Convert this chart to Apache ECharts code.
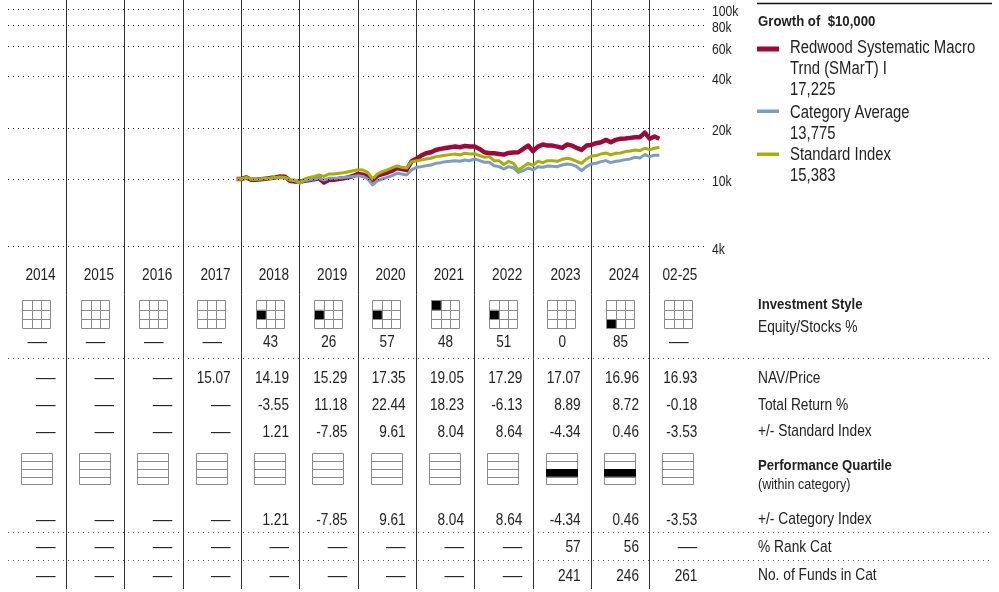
<!DOCTYPE html>
<html><head><meta charset="utf-8">
<script src="https://cdn.jsdelivr.net/npm/echarts@6/dist/echarts.min.js"></script>
<style>html,body{margin:0;padding:0;background:#fff}#c{width:999px;height:592px}</style>
</head><body><div id="c"></div>
<script>
// ---------- DATA ----------
const years = ['2014','2015','2016','2017','2018','2019','2020','2021','2022','2023','2024','02-25'];
const inceptionTime = 2017.92;
// growth of $10,000, inception, then month-ends Dec 2017 .. Feb 2025
const fund = [10000, 10000,
  10220, 9910, 9910, 9960, 10040, 10130, 10220, 10360, 10320, 9770, 9680, 9645,
  9770, 9870, 9960, 10090, 9550, 9870, 9910, 10000, 10090, 10220, 10410, 10723,
  10600, 10320, 9770, 10460, 10700, 10890, 11190, 11610, 11450, 11300, 12710, 13130,
  13730, 14170, 14360, 14820, 15030, 15230, 15370, 15510, 15370, 15650, 15510, 15523,
  15030, 14360, 14170, 14170, 14040, 13910, 14230, 14300, 14360, 15030, 15720, 14572,
  15510, 15940, 15720, 15720, 15510, 15230, 15940, 15720, 15230, 14820, 15720, 15867,
  16230, 16450, 16980, 16450, 16980, 17230, 17290, 17450, 17610, 17610, 18763, 17251,
  17770, 17225];
const categoryAvg = [10000, 10000,
  10180, 9960, 9960, 10000, 10040, 10090, 10180, 10220, 10180, 9870, 9770, 9470,
  9770, 9910, 10000, 10090, 9870, 10090, 10090, 10130, 10220, 10270, 10360, 10460,
  10360, 10000, 9250, 9770, 10000, 10220, 10460, 10800, 10700, 10560, 11300, 11710,
  11820, 11980, 12090, 12370, 12480, 12650, 12710, 12820, 12710, 12940, 12820, 13120,
  12820, 12540, 12540, 11980, 11820, 11450, 11820, 11610, 10940, 11190, 11610, 11300,
  11820, 11710, 11930, 11870, 11820, 12090, 12260, 12150, 11820, 11190, 11820, 12260,
  12370, 12650, 12820, 12480, 12710, 12820, 13000, 13120, 13420, 13300, 13910, 13540,
  13790, 13775];
const standardIndex = [10000, 10000,
  10220, 10000, 9960, 10000, 10090, 10130, 10220, 10270, 10220, 9870, 9870, 9524,
  10000, 10220, 10360, 10560, 10360, 10700, 10700, 10800, 10890, 11040, 11190, 11336,
  11300, 10940, 10000, 10700, 11040, 11300, 11610, 11930, 11710, 11610, 12650, 12791,
  12940, 13120, 13240, 13540, 13660, 13790, 13910, 14040, 13850, 14170, 14040, 14094,
  13730, 13420, 13540, 12820, 12820, 12150, 12710, 12370, 11300, 11820, 12370, 12012,
  12710, 12480, 12820, 12820, 12710, 13060, 13240, 13060, 12710, 12370, 13120, 13601,
  13730, 14040, 14230, 13850, 14170, 14230, 14490, 14620, 14820, 14690, 15160, 14880,
  15160, 15383];
const seriesNames = ['Redwood Systematic Macro\nTrnd (SMarT) I', 'Category Average', 'Standard Index'];
const legendValues = ['17,225', '13,775', '15,383'];
const tickValues = [4000, 10000, 20000, 40000, 60000, 80000, 100000];
const tickLabels = ['4k', '10k', '20k', '40k', '60k', '80k', '100k'];

// style box: [row, col] of filled cell (0=top/left)
const styleBox = [null, null, null, null, [1,0], [1,0], [1,0], [0,0], [1,0], null, [2,0], null];
const equityPct = [null, null, null, null, 43, 26, 57, 48, 51, 0, 85, null];
const nav = [null, null, null, 15.07, 14.19, 15.29, 17.35, 19.05, 17.29, 17.07, 16.96, 16.93];
const totalReturn = [null, null, null, null, -3.55, 11.18, 22.44, 18.23, -6.13, 8.89, 8.72, -0.18];
const plusStdIndex = [null, null, null, null, 1.21, -7.85, 9.61, 8.04, 8.64, -4.34, 0.46, -3.53];
const quartile = [null, null, null, null, null, null, null, null, null, 3, 3, null];
const plusCatIndex = [null, null, null, null, 1.21, -7.85, 9.61, 8.04, 8.64, -4.34, 0.46, -3.53];
const rankCat = [null, null, null, null, null, null, null, null, null, 57, 56, null];
const fundsInCat = [null, null, null, null, null, null, null, null, null, 241, 246, 261];

// ---------- LAYOUT / STYLE ----------
const FONT = "'Liberation Sans',Arial,sans-serif";
const TXT = '#222';
const COLORS = ['#a0073a', '#7b9cc5', '#a5b000'];
const rowY = {year: 275, style: 313.5, equity: 342, nav: 378, ret: 405, std: 431.5,
  quart: 468.5, cat: 519.5, rank: 547, funds: 575.5};
const sepY = [358, 532.5, 560.5];

const times = [inceptionTime].concat(Array.from({length: fund.length - 1}, (_, i) => 2018 + i / 12));
const DASH = '\u2014';
const f2 = v => v == null ? DASH : v.toFixed(2);
const fi = v => v == null ? DASH : String(v);

function textRow(values, y, fmt, align) {
  return {
    type: 'custom', xAxisIndex: 1, yAxisIndex: 1, silent: true, animation: false, z: 5, clip: false,
    data: values.map((v, i) => [i, y]),
    renderItem: (params, api) => {
      const i = api.value(0);
      const c = api.coord([i, api.value(1)]);
      const t = fmt(values[i]);
      const dash = t === DASH;
      return {type: 'text', x: c[0] + (align === 'right' ? 18.5 : 0), y: c[1] + 0.5,
        scaleX: dash ? 1.15 : 0.8,
        style: {text: t, align: align, verticalAlign: 'middle', fill: TXT, fontFamily: FONT, fontSize: 17}};
    }
  };
}

function lineSeries(vals, idx, width) {
  return {type: 'line', name: seriesNames[idx], xAxisIndex: 0, yAxisIndex: 0,
    data: times.map((t, i) => [t, vals[i]]), showSymbol: false, silent: true, animation: false,
    lineStyle: {color: COLORS[idx], width: width, join: 'round'}, z: 3};
}

const axisLabelSeries = {
  type: 'custom', xAxisIndex: 0, yAxisIndex: 0, silent: true, animation: false, clip: false, z: 5,
  data: tickValues.map(v => [2026, v]),
  renderItem: (params, api) => {
    const c = api.coord([api.value(0), api.value(1)]);
    return {type: 'text', x: c[0] + 4, y: c[1] + 3.2, scaleX: 0.87,
      style: {text: tickLabels[params.dataIndex], align: 'left', verticalAlign: 'middle',
        fill: TXT, fontFamily: FONT, fontSize: 14}};
  }
};

const styleBoxSeries = {
  type: 'custom', xAxisIndex: 1, yAxisIndex: 1, silent: true, animation: false, z: 4,
  data: years.map((y, i) => [i, rowY.style]),
  renderItem: (params, api) => {
    const col = api.value(0);
    const c = api.coord([col, api.value(1)]);
    const s = 28, cs = s / 3;
    const x0 = Math.round(c[0] - 1 - s / 2) + 0.5, y0 = Math.round(c[1] - s / 2) + 0.5;
    const ch = [];
    const cell = styleBox[col];
    if (cell) ch.push({type: 'rect', shape: {x: x0 + cell[1] * cs, y: y0 + cell[0] * cs, width: cs, height: cs}, style: {fill: '#000'}});
    for (let k = 1; k < 3; k++) {
      const xx = Math.round(x0 + k * cs) + 0.5, yy = Math.round(y0 + k * cs) + 0.5;
      ch.push({type: 'line', shape: {x1: xx, y1: y0, x2: xx, y2: y0 + s}, style: {stroke: '#8a8a8a', lineWidth: 1}});
      ch.push({type: 'line', shape: {x1: x0, y1: yy, x2: x0 + s, y2: yy}, style: {stroke: '#8a8a8a', lineWidth: 1}});
    }
    ch.push({type: 'rect', shape: {x: x0, y: y0, width: s, height: s}, style: {fill: 'none', stroke: '#8a8a8a', lineWidth: 1}});
    return {type: 'group', children: ch};
  }
};

const quartileSeries = {
  type: 'custom', xAxisIndex: 1, yAxisIndex: 1, silent: true, animation: false, z: 4,
  data: years.map((y, i) => [i, rowY.quart]),
  renderItem: (params, api) => {
    const col = api.value(0);
    const c = api.coord([col, api.value(1)]);
    const w = 31, h = 31, rh = h / 4;
    const x0 = Math.round(c[0] - 1 - w / 2) + 0.5, y0 = Math.round(c[1] - h / 2) + 0.5;
    const ch = [];
    for (let k = 1; k < 4; k++) {
      const yy = Math.round(y0 + k * rh) + 0.5;
      ch.push({type: 'line', shape: {x1: x0, y1: yy, x2: x0 + w, y2: yy}, style: {stroke: '#8a8a8a', lineWidth: 1}});
    }
    ch.push({type: 'rect', shape: {x: x0, y: y0, width: w, height: h}, style: {fill: 'none', stroke: '#8a8a8a', lineWidth: 1}});
    const q = quartile[col];
    if (q) ch.push({type: 'rect', shape: {x: x0 - 0.5, y: y0 + (q - 1) * rh, width: w + 1, height: rh}, style: {fill: '#000'}});
    return {type: 'group', children: ch};
  }
};

function gtext(x, y, text, o) {
  o = o || {};
  return {type: 'text', x: x, y: y, silent: true, z: 10, scaleX: o.sx || 0.81,
    style: {text: text, fill: o.fill || TXT, fontFamily: FONT, fontSize: o.size || 17,
      fontWeight: o.bold ? 'bold' : 'normal', verticalAlign: o.va || 'middle', align: 'left',
      lineHeight: o.lh || undefined}};
}

const LX = 758;
const graphics = [
  {type: 'line', shape: {x1: 757, y1: 3.5, x2: 992, y2: 3.5}, style: {stroke: '#111', lineWidth: 1.5}, silent: true},
  gtext(LX, 22, 'Growth of  $10,000', {bold: true, size: 15, sx: 0.88}),
  {type: 'rect', shape: {x: 757, y: 46.5, width: 22, height: 5}, style: {fill: COLORS[0]}, silent: true},
  gtext(790, 37.5, seriesNames[0] + '\n' + legendValues[0], {size: 17.5, va: 'top', lh: 21, sx: 0.85}),
  {type: 'rect', shape: {x: 757, y: 109.5, width: 22, height: 3.5}, style: {fill: COLORS[1]}, silent: true},
  gtext(790, 102.5, seriesNames[1] + '\n' + legendValues[1], {size: 17.5, va: 'top', lh: 21, sx: 0.85}),
  {type: 'rect', shape: {x: 757, y: 152.5, width: 22, height: 3.5}, style: {fill: COLORS[2]}, silent: true},
  gtext(790, 144.5, seriesNames[2] + '\n' + legendValues[2], {size: 17.5, va: 'top', lh: 21, sx: 0.85}),
  gtext(LX, 305, 'Investment Style', {bold: true, size: 14, sx: 0.94}),
  gtext(LX, 327, 'Equity/Stocks %'),
  gtext(LX, rowY.nav, 'NAV/Price'),
  gtext(LX, rowY.ret, 'Total Return %'),
  gtext(LX, rowY.std, '+/- Standard Index'),
  gtext(LX, 466, 'Performance Quartile', {bold: true, size: 14, sx: 0.94}),
  gtext(LX, 485, '(within category)', {size: 14, sx: 0.9}),
  gtext(LX, rowY.cat, '+/- Category Index'),
  gtext(LX, rowY.rank, '% Rank Cat'),
  gtext(LX, rowY.funds, 'No. of Funds in Cat')
];

const option = {
  backgroundColor: '#fff',
  animation: false,
  grid: [
    {left: 8, top: 8.9, width: 700, height: 237.8},
    {left: 8, top: 0, width: 700, height: 589},
    {left: 8, right: 9, top: 0, height: 589}
  ],
  xAxis: [
    {gridIndex: 0, type: 'value', min: 2014, max: 2026, show: false},
    {gridIndex: 1, type: 'category', data: years, boundaryGap: true,
      axisLine: {show: false}, axisTick: {show: false}, axisLabel: {show: false, interval: 0},
      splitLine: {show: true, interval: 0, showMinLine: false, showMaxLine: false, lineStyle: {color: '#333', width: 1}}},
    {gridIndex: 2, type: 'value', min: 0, max: 1, show: false}
  ],
  yAxis: [
    {gridIndex: 0, type: 'log', logBase: 10, min: 4000, max: 100000, show: false},
    {gridIndex: 1, type: 'value', min: 0, max: 589, inverse: true, show: false},
    {gridIndex: 2, type: 'value', min: 0, max: 589, inverse: true, show: false}
  ],
  graphic: graphics,
  series: [
    {type: 'line', xAxisIndex: 0, yAxisIndex: 0, data: [], silent: true, z: 1,
      markLine: {silent: true, symbol: ['none', 'none'], animation: false,
        lineStyle: {type: [1, 4], color: '#222', width: 1}, label: {show: false},
        data: tickValues.map(v => ({yAxis: v}))}},
    {type: 'line', xAxisIndex: 2, yAxisIndex: 2, data: [], silent: true, z: 1,
      markLine: {silent: true, symbol: ['none', 'none'], animation: false,
        lineStyle: {type: [1, 4], color: '#555', width: 1}, label: {show: false},
        data: sepY.map(v => ({yAxis: v}))}},
    axisLabelSeries,
    lineSeries(fund, 0, 4.5),
    lineSeries(categoryAvg, 1, 3),
    lineSeries(standardIndex, 2, 3),
    styleBoxSeries,
    quartileSeries,
    textRow(years, rowY.year, v => v, 'right'),
    textRow(equityPct, rowY.equity, fi, 'center'),
    textRow(nav, rowY.nav, f2, 'right'),
    textRow(totalReturn, rowY.ret, f2, 'right'),
    textRow(plusStdIndex, rowY.std, f2, 'right'),
    textRow(plusCatIndex, rowY.cat, f2, 'right'),
    textRow(rankCat, rowY.rank, fi, 'right'),
    textRow(fundsInCat, rowY.funds, fi, 'right')
  ]
};
const chart = echarts.init(document.getElementById('c'), null, {renderer: 'canvas'});
chart.setOption(option);
</script></body></html>
